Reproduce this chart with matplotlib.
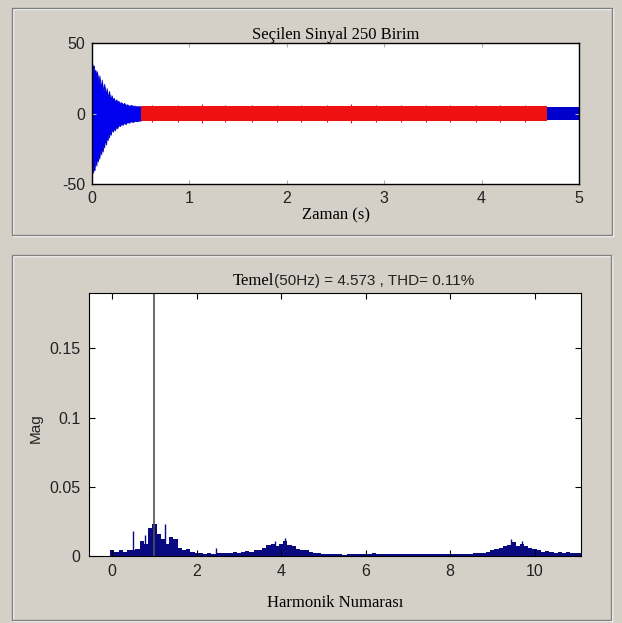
import matplotlib.pyplot as plt
from matplotlib.patches import Rectangle

plt.rcParams['axes.unicode_minus'] = False

# --- time signal (envelope of the sampled waveform) ---
decay_t = [0.000, 0.010, 0.020, 0.025, 0.035, 0.045, 0.050, 0.060, 0.070,
           0.075, 0.085, 0.095, 0.100, 0.110, 0.120, 0.125, 0.135, 0.145,
           0.150, 0.160, 0.170, 0.175, 0.185, 0.195, 0.200, 0.215, 0.225,
           0.235, 0.250, 0.260, 0.270, 0.285, 0.300, 0.315, 0.330, 0.345,
           0.360, 0.380, 0.400, 0.420, 0.440, 0.460, 0.480, 0.500]
decay_hi = [36, 33, 34, 29, 31, 25, 30, 26, 21, 27, 22, 18, 24, 19, 16, 21,
            17, 13, 18, 14, 12, 16, 12, 10, 13, 10, 11, 8.5, 10, 8, 9, 7.5,
            8, 6.5, 7.5, 6, 6.5, 5.5, 6, 5.5, 5.5, 5, 5.2, 5]
decay_lo = [-30, -42, -38, -40, -33, -37, -31, -34, -28, -32, -25, -29, -23,
            -27, -21, -24, -18, -22, -16, -19, -14, -17, -13, -15, -11, -13,
            -10, -12, -9, -10.5, -8, -9, -7.5, -8, -6.5, -7.5, -6, -6.5,
            -5.5, -6, -5.2, -5.5, -5, -5]

sel_t = [0.50, 4.67]          # selected window (red)
sel_hi = [5.0, 5.0]
sel_lo = [-5.0, -5.0]
sel_spike_t = [0.62, 0.88, 1.13, 1.37, 1.64, 1.90, 2.15, 2.41, 2.66, 2.92,
               3.17, 3.43, 3.68, 3.94, 4.19, 4.45]
sel_spike = [6.2, 6.0, 6.4, 6.1, 6.3, 6.0, 6.2, 6.1, 6.4, 6.0, 6.2, 6.1,
             6.3, 6.0, 6.2, 6.1]

tail_t = [4.67, 5.00]
tail_hi = [4.8, 4.8]
tail_lo = [-4.8, -4.8]

# --- harmonic spectrum ---
harm_x = [round(0.1 * i, 1) for i in range(112)]
harm_mag = [0.004, 0.003, 0.004, 0.003, 0.004, 0.004, 0.005, 0.011, 0.009, 0.020,
            0.023, 0.016, 0.012, 0.009, 0.014, 0.012, 0.006, 0.004, 0.005, 0.003,
            0.002, 0.002, 0.0015, 0.002, 0.0015, 0.002, 0.002, 0.0025, 0.002, 0.003,
            0.0025, 0.003, 0.0035, 0.003, 0.004, 0.004, 0.006, 0.008, 0.009, 0.007,
            0.009, 0.011, 0.008, 0.007, 0.005, 0.004, 0.004, 0.003, 0.002, 0.0025,
            0.0015, 0.0012, 0.0018, 0.0012, 0.0015, 0.001, 0.0016, 0.0012, 0.0018, 0.0012,
            0.0015, 0.0012, 0.002, 0.0012, 0.0016, 0.0013, 0.0018, 0.0012, 0.0015, 0.0017,
            0.0012, 0.0016, 0.0012, 0.0015, 0.0012, 0.0018, 0.0013, 0.0015, 0.0012, 0.0016,
            0.0012, 0.0015, 0.0013, 0.0017, 0.0012, 0.0015, 0.002, 0.0025, 0.002, 0.003,
            0.004, 0.005, 0.006, 0.007, 0.008, 0.010, 0.007, 0.009, 0.007, 0.006,
            0.005, 0.004, 0.003, 0.0035, 0.003, 0.0025, 0.003, 0.0025, 0.003, 0.002,
            0.0025, 0.002]
spike_x = [0.50, 0.78, 1.24, 2.45, 3.86, 4.10, 9.45, 9.70]
spike_mag = [0.018, 0.015, 0.023, 0.0055, 0.011, 0.013, 0.012, 0.011]
fund_x = 1.0
fund_mag = 4.573
thd = 0.11

BG = '#d4d0c8'
SERIF = ['Liberation Serif', 'DejaVu Serif']
SANS = ['Liberation Sans', 'DejaVu Sans']

W, H = 622, 623
fig = plt.figure(figsize=(W / 100, H / 100), dpi=100, facecolor=BG)


def px(x, y):
    return x / W, 1 - y / H


def panel(x0, y0, x1, y1):
    # etched border like the GUI frame
    fig.patches.append(Rectangle(px(x0, y1), (x1 - x0) / W, (y1 - y0) / H,
                                 transform=fig.transFigure, fill=False,
                                 edgecolor='#808080', linewidth=1))
    fig.patches.append(Rectangle(px(x0 + 1, y1 + 1), (x1 - x0) / W, (y1 - y0) / H,
                                 transform=fig.transFigure, fill=False,
                                 edgecolor='white', linewidth=1, zorder=0))


panel(12, 8, 612, 235)
panel(12, 255, 611, 620)

# top axes: time signal
l, b = px(92, 184)
ax1 = fig.add_axes([l, b, (579 - 92) / W, (184 - 43) / H])
ax1.fill_between(decay_t, decay_lo, decay_hi, color='#0000ee', linewidth=0.6,
                 edgecolor='#0000cc')
ax1.fill_between(sel_t, sel_lo, sel_hi, color='#ee1111', linewidth=0)
ax1.vlines(sel_spike_t, [-s for s in sel_spike], sel_spike, color='#ee1111',
           linewidth=0.8)
ax1.fill_between(tail_t, tail_lo, tail_hi, color='#0000cc', linewidth=0)
ax1.set_xlim(0, 5)
ax1.set_ylim(-50, 50)
ax1.set_xticks([0, 1, 2, 3, 4, 5])
ax1.set_yticks([-50, 0, 50])
ax1.tick_params(direction='in', top=True, right=True, length=3,
                color='#b0b0b0', labelsize=11.5, pad=5)
for lab in ax1.get_xticklabels() + ax1.get_yticklabels():
    lab.set_family(SANS)
    lab.set_color('#222222')
ax1.set_title('Seçilen Sinyal 250 Birim', family=SERIF, fontsize=12, pad=3)
ax1.set_xlabel('Zaman (s)', family=SERIF, fontsize=12, labelpad=1)
for s in ax1.spines.values():
    s.set_linewidth(1)

# bottom axes: harmonic spectrum
l, b = px(89, 556)
ax2 = fig.add_axes([l, b, (581 - 89) / W, (556 - 293) / H])
ax2.bar(harm_x, harm_mag, width=0.1, color='#0a0a80', linewidth=0)
ax2.vlines(spike_x, 0, spike_mag, color='#0a0a80', linewidth=1)
ax2.vlines([fund_x], 0, [fund_mag], color='#505050', linewidth=1.2)
ax2.set_xlim(-0.55, 11.1)
ax2.set_ylim(0, 0.19)
ax2.set_xticks([0, 2, 4, 6, 8, 10])
ax2.set_yticks([0, 0.05, 0.1, 0.15])
ax2.set_yticklabels(['0', '0.05', '0.1', '0.15'])
ax2.tick_params(direction='in', top=True, right=True, length=4,
                labelsize=11.5, pad=6)
for lab in ax2.get_xticklabels() + ax2.get_yticklabels():
    lab.set_family(SANS)
    lab.set_color('#222222')
ax2.set_xlabel('Harmonik Numarası', family=SERIF, fontsize=12, labelpad=11)
fig.text(*px(36, 428), 'Mag', family=SANS, fontsize=11, rotation=90,
         ha='center', va='center', color='#222222')

# title: fundamental magnitude and THD
fig.text(*px(274, 281), 'Temel', family=SERIF, fontsize=12, ha='right',
         va='center')
fig.text(*px(274, 281), f'(50Hz) = {fund_mag:.3f} , THD= {thd:.2f}%',
         family=SANS, fontsize=11, ha='left', va='center', color='#222222')

fig.savefig('out.png', dpi=100, facecolor=BG)
